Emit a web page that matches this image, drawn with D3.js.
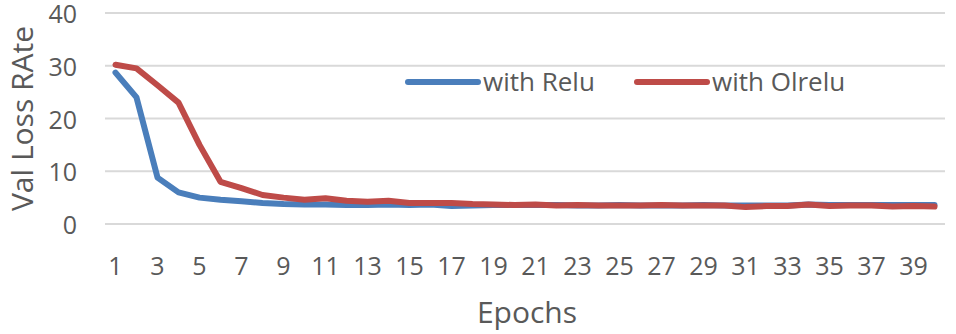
<!DOCTYPE html>
<html>
<head>
<meta charset="utf-8">
<script src="https://cdn.jsdelivr.net/npm/d3@7"></script>
<style>
  body { margin: 0; background: #fff; }
  text { font-family: "Open Sans", "Noto Sans", sans-serif; fill: #595959; }
</style>
</head>
<body>
<svg id="chart"></svg>
<script>
var epochs = d3.range(1, 41);
var reluLoss = [28.7, 24.0, 8.8, 6.0, 5.0, 4.6, 4.3, 4.0, 3.8, 3.7,
    3.7, 3.6, 3.6, 3.7, 3.6, 3.7, 3.4, 3.5, 3.6, 3.6,
    3.6, 3.6, 3.5, 3.5, 3.6, 3.5, 3.5, 3.5, 3.6, 3.5,
    3.5, 3.5, 3.5, 3.7, 3.6, 3.6, 3.6, 3.6, 3.6, 3.6];
var olreluLoss = [30.2, 29.5, 26.3, 23.0, 15.0, 8.0, 6.8, 5.5, 5.0, 4.6,
    4.9, 4.4, 4.2, 4.4, 4.0, 4.0, 4.0, 3.8, 3.7, 3.6,
    3.7, 3.5, 3.6, 3.5, 3.5, 3.5, 3.6, 3.5, 3.5, 3.5,
    3.2, 3.4, 3.4, 3.7, 3.4, 3.5, 3.5, 3.3, 3.4, 3.3];
var yTicks = [0, 10, 20, 30, 40];
var seriesNames = ['with Relu', 'with Olrelu'];
var seriesColors = ['#4a7ebb', '#be4b48'];

var width = 956, height = 334;
var margin = { top: 13, right: 11, bottom: 110, left: 105 };

var svg = d3.select('#chart').attr('width', width).attr('height', height);

var x = d3.scaleBand().domain(epochs).range([margin.left, width - margin.right]);
var y = d3.scaleLinear().domain([0, 40]).range([height - margin.bottom, margin.top]);

// gridlines
svg.append('g').selectAll('line')
    .data(yTicks)
    .join('line')
    .attr('x1', margin.left)
    .attr('x2', width - margin.right)
    .attr('y1', d => y(d))
    .attr('y2', d => y(d))
    .attr('stroke', '#d9d9d9')
    .attr('stroke-width', 2);

// y tick labels
svg.append('g').selectAll('text')
    .data(yTicks)
    .join('text')
    .attr('x', 77)
    .attr('y', d => y(d) + 1)
    .attr('dy', '0.36em')
    .attr('text-anchor', 'end')
    .style('font-size', '25px')
    .text(d => d);

// x tick labels (every other epoch)
svg.append('g').selectAll('text')
    .data(epochs.filter(d => d % 2 === 1))
    .join('text')
    .attr('x', d => x(d) + x.bandwidth() / 2)
    .attr('y', 266)
    .attr('dy', '0.36em')
    .attr('text-anchor', 'middle')
    .style('font-size', '25px')
    .text(d => d);

// axis titles
svg.append('text')
    .attr('transform', 'translate(22,' + y(20) + ') rotate(-90)')
    .attr('dy', '0.36em')
    .attr('text-anchor', 'middle')
    .style('font-size', '30px')
    .text('Val Loss RAte');

svg.append('text')
    .attr('x', 527)
    .attr('y', 312)
    .attr('dy', '0.36em')
    .attr('text-anchor', 'middle')
    .style('font-size', '30px')
    .text('Epochs');

var line = d3.line()
    .x((d, i) => x(epochs[i]) + x.bandwidth() / 2)
    .y(d => y(d));

[reluLoss, olreluLoss].forEach((s, i) => {
    svg.append('path')
        .datum(s)
        .attr('d', line)
        .attr('fill', 'none')
        .attr('stroke', seriesColors[i])
        .attr('stroke-width', 6)
        .attr('stroke-linejoin', 'round')
        .attr('stroke-linecap', 'round');
});

// legend
var legendX = [408, 637];
var legend = svg.append('g').selectAll('g')
    .data(seriesNames)
    .join('g')
    .attr('transform', (d, i) => 'translate(' + legendX[i] + ',82)');

legend.append('line')
    .attr('x1', 0).attr('x2', 70)
    .attr('stroke', (d, i) => seriesColors[i])
    .attr('stroke-width', 6)
    .attr('stroke-linecap', 'round');

legend.append('text')
    .attr('x', 75)
    .attr('dy', '0.36em')
    .style('font-size', '26px')
    .text(d => d);
</script>
</body>
</html>
